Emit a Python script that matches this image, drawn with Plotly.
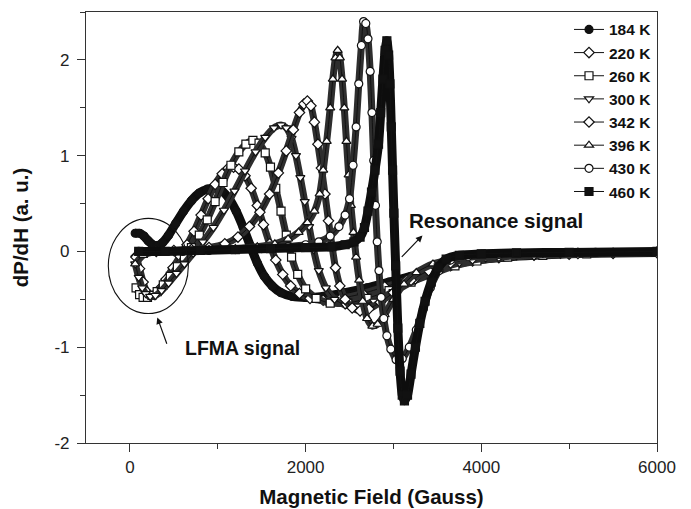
import plotly.graph_objects as go

# ---------------- data ----------------
temps = ["184 K", "220 K", "260 K", "300 K", "342 K", "396 K", "430 K", "460 K"]

h184 = [60, 110, 160, 210, 260, 310, 370, 440, 520, 610, 700, 790, 880, 970, 1050, 1130, 1210, 1290, 1370, 1450,
        1530, 1620, 1720, 1850, 2000, 2200, 2450, 2700, 2950, 3200, 3450, 3700, 3950, 4250, 4600, 5000, 5500, 6000]
y184 = [0.19, 0.19, 0.16, 0.11, 0.07, 0.06, 0.09, 0.17, 0.29, 0.42, 0.53, 0.61, 0.65, 0.66, 0.63, 0.55, 0.42, 0.25,
        0.06, -0.12, -0.26, -0.36, -0.43, -0.47, -0.48, -0.47, -0.43, -0.38, -0.32, -0.26, -0.19, -0.13, -0.09,
        -0.06, -0.04, -0.025, -0.015, -0.01]

h220 = [70, 110, 150, 190, 230, 280, 340, 410, 490, 570, 650, 730, 810, 890, 970, 1050, 1120, 1180, 1240, 1310,
        1380, 1450, 1520, 1590, 1660, 1740, 1830, 1930, 2050, 2200, 2400, 2650, 2900, 3150, 3400, 3650, 3900, 4200,
        4600, 5000, 5500, 6000]
y220 = [-0.05, -0.18, -0.32, -0.42, -0.46, -0.45, -0.39, -0.29, -0.17, -0.05, 0.07, 0.21, 0.38, 0.55, 0.70, 0.81,
        0.87, 0.88, 0.86, 0.79, 0.66, 0.48, 0.28, 0.08, -0.09, -0.24, -0.36, -0.44, -0.49, -0.51, -0.49, -0.44,
        -0.37, -0.30, -0.22, -0.15, -0.10, -0.065, -0.04, -0.03, -0.02, -0.01]

h260 = [70, 110, 150, 200, 250, 310, 380, 460, 540, 620, 700, 790, 880, 970, 1060, 1150, 1240, 1320, 1400, 1470,
        1540, 1600, 1660, 1720, 1780, 1840, 1910, 2000, 2120, 2280, 2480, 2700, 2950, 3200, 3450, 3700, 3950, 4300,
        4700, 5200, 6000]
y260 = [-0.38, -0.45, -0.48, -0.48, -0.46, -0.42, -0.35, -0.26, -0.16, -0.06, 0.04, 0.17, 0.33, 0.52, 0.72, 0.90,
        1.04, 1.12, 1.16, 1.13, 1.03, 0.88, 0.66, 0.42, 0.17, -0.06, -0.24, -0.39, -0.49, -0.54, -0.54, -0.49,
        -0.41, -0.32, -0.23, -0.15, -0.10, -0.06, -0.04, -0.025, -0.01]

h300 = [60, 100, 140, 180, 230, 290, 360, 440, 530, 620, 720, 830, 950, 1070, 1190, 1310, 1430, 1540, 1640, 1720,
        1780, 1840, 1890, 1940, 1990, 2040, 2090, 2150, 2230, 2330, 2450, 2600, 2780, 3000, 3250, 3500, 3750, 4050,
        4400, 4900, 5500, 6000]
y300 = [-0.13, -0.27, -0.38, -0.44, -0.47, -0.46, -0.41, -0.33, -0.23, -0.13, -0.02, 0.10, 0.25, 0.43, 0.63, 0.84,
        1.04, 1.19, 1.29, 1.32, 1.29, 1.18, 1.00, 0.77, 0.52, 0.26, 0.02, -0.20, -0.38, -0.50, -0.56, -0.57, -0.52,
        -0.42, -0.30, -0.19, -0.12, -0.07, -0.045, -0.03, -0.02, -0.01]

h342 = [70, 150, 300, 500, 700, 900, 1080, 1230, 1360, 1480, 1590, 1690, 1780, 1860, 1930, 1980, 2020, 2060, 2100,
        2140, 2180, 2220, 2260, 2300, 2340, 2390, 2450, 2530, 2620, 2720, 2850, 3000, 3200, 3400, 3650, 3900, 4200,
        4600, 5100, 6000]
y342 = [-0.06, -0.02, 0.0, 0.01, 0.02, 0.04, 0.08, 0.15, 0.26, 0.41, 0.60, 0.82, 1.05, 1.27, 1.45, 1.54, 1.57, 1.52,
        1.35, 1.12, 0.87, 0.60, 0.32, 0.06, -0.17, -0.36, -0.50, -0.59, -0.62, -0.60, -0.53, -0.43, -0.30, -0.20,
        -0.12, -0.075, -0.05, -0.035, -0.02, -0.01]

h396 = [60, 150, 300, 600, 900, 1200, 1450, 1650, 1800, 1920, 2020, 2100, 2160, 2200, 2240, 2280, 2310, 2340, 2365,
        2390, 2415, 2440, 2465, 2490, 2515, 2545, 2575, 2610, 2650, 2700, 2760, 2820, 2900, 3000, 3120, 3260, 3450,
        3700, 4000, 4400, 5000, 6000]
y396 = [-0.13, -0.04, 0.0, 0.01, 0.02, 0.03, 0.05, 0.08, 0.13, 0.20, 0.30, 0.42, 0.60, 0.85, 1.15, 1.50, 1.80, 2.02,
        2.10, 2.02, 1.80, 1.50, 1.15, 0.80, 0.48, 0.20, -0.06, -0.30, -0.52, -0.70, -0.78, -0.76, -0.66, -0.50,
        -0.34, -0.22, -0.13, -0.08, -0.05, -0.035, -0.02, -0.01]

h430 = [100, 300, 600, 900, 1200, 1500, 1800, 2000, 2150, 2280, 2380, 2450, 2500, 2540, 2575, 2605, 2635, 2660,
        2685, 2710, 2735, 2755, 2775, 2795, 2815, 2835, 2860, 2890, 2925, 2970, 3030, 3100, 3180, 3260, 3340, 3420,
        3520, 3650, 3850, 4200, 4700, 5300, 6000]
y430 = [0.0, 0.0, 0.0, 0.01, 0.02, 0.03, 0.05, 0.07, 0.10, 0.16, 0.26, 0.38, 0.55, 0.90, 1.30, 1.75, 2.15, 2.40,
        2.38, 2.22, 1.88, 1.45, 0.95, 0.48, 0.10, -0.20, -0.48, -0.70, -0.88, -1.02, -1.13, -1.12, -1.00, -0.82,
        -0.60, -0.38, -0.20, -0.09, -0.05, -0.03, -0.02, -0.01, 0.0]

h460 = [100, 400, 800, 1200, 1600, 2000, 2300, 2450, 2550, 2620, 2670, 2710, 2750, 2790, 2830, 2855, 2880, 2905,
        2925, 2945, 2960, 2975, 2990, 3005, 3025, 3050, 3075, 3100, 3125, 3160, 3200, 3250, 3300, 3360, 3430, 3510,
        3600, 3750, 4000, 4400, 5000, 6000]
y460 = [0.0, 0.0, 0.01, 0.02, 0.03, 0.04, 0.05, 0.07, 0.10, 0.15, 0.25, 0.42, 0.62, 0.85, 1.12, 1.45, 1.80, 2.10,
        2.20, 2.05, 1.75, 1.30, 0.85, 0.40, -0.15, -0.80, -1.25, -1.50, -1.56, -1.50, -1.28, -1.00, -0.75, -0.52,
        -0.32, -0.17, -0.08, -0.04, -0.025, -0.015, -0.01, 0.0]

xs = [h184, h220, h260, h300, h342, h396, h430, h460]
ys = [y184, y220, y260, y300, y342, y396, y430, y460]
symbols = ["circle", "diamond", "square", "triangle-down", "diamond", "triangle-up", "circle", "square"]
filled = [True, False, False, False, False, False, False, True]

x_ticks = [0, 2000, 4000, 6000]
y_ticks = [-2, -1, 0, 1, 2]
y_ticktext = ["-2", "-1", "0", "1", "2"]

# ---------------- figure ----------------
FONT = "Liberation Sans, Arial, sans-serif"
INK = "#111111"
fig = go.Figure()

for name, hx, yy, sym, fl in zip(temps, xs, ys, symbols, filled):
    band = "#0d0d0d" if fl else "#2e2e2e"
    fig.add_trace(go.Scatter(
        x=hx, y=yy, mode="lines", showlegend=False, hoverinfo="skip",
        line=dict(color=band, width=9 if fl else 7, shape="spline", smoothing=0.6)))
    fig.add_trace(go.Scatter(
        x=hx, y=yy, mode="lines+markers", name=name,
        line=dict(color=INK, width=1, shape="spline", smoothing=0.6),
        marker=dict(symbol=sym, size=8,
                    color=INK if fl else "white",
                    line=dict(color=INK, width=1.2))))

fig.add_shape(type="circle", xref="x", yref="y", x0=-246, x1=665, y0=-0.648, y1=0.345,
              line=dict(color=INK, width=1.1))

fig.add_annotation(x=3330, y=0.167, ax=3078, ay=-0.073, xref="x", yref="y", axref="x", ayref="y",
                   text="", showarrow=True, arrowhead=2, arrowsize=1.1, arrowwidth=1.2, arrowcolor=INK)
fig.add_annotation(x=312, y=-0.69, ax=426, ay=-0.98, xref="x", yref="y", axref="x", ayref="y",
                   text="", showarrow=True, arrowhead=2, arrowsize=1.1, arrowwidth=1.2, arrowcolor=INK)
fig.add_annotation(x=4170, y=0.32, xref="x", yref="y", text="Resonance signal", showarrow=False,
                   font=dict(family=FONT, size=20.5, color=INK, weight="bold"))
fig.add_annotation(x=1285, y=-1.01, xref="x", yref="y", text="LFMA signal", showarrow=False,
                   font=dict(family=FONT, size=19.5, color=INK, weight="bold"))

axis_common = dict(showgrid=False, zeroline=False, linecolor="#333333", linewidth=1.2,
                   tickcolor="#333333", tickwidth=1.2, automargin=False,
                   tickfont=dict(family=FONT, size=17, color="#222222"))

fig.update_layout(
    width=691, height=509,
    margin=dict(l=86, r=34, t=12, b=66),
    paper_bgcolor="white", plot_bgcolor="white",
    font=dict(family=FONT, color=INK),
    xaxis=dict(range=[-500, 6000], tickvals=x_ticks, ticks="outside", ticklen=8,
               minor=dict(dtick=1000, tick0=0, ticks="outside", ticklen=5, tickcolor="#333333"),
               mirror=True,
               title=dict(text="Magnetic Field (Gauss)", standoff=14,
                          font=dict(family=FONT, size=20.5, color=INK, weight="bold")),
               **axis_common),
    yaxis=dict(range=[-2, 2.5], tickvals=y_ticks, ticktext=y_ticktext, ticks="outside", ticklen=8,
               minor=dict(dtick=0.5, tick0=0, ticks="outside", ticklen=5, tickcolor="#333333"),
               mirror=True, ticklabelstandoff=4,
               title=dict(text="dP/dH (a. u.)", standoff=20,
                          font=dict(family=FONT, size=20.5, color=INK, weight="bold")),
               **axis_common),
    xaxis2=dict(overlaying="x", matches="x", side="top", anchor="y", showticklabels=False,
                tickvals=[0, 1000, 2000, 3000, 4000, 5000, 6000], ticks="inside", ticklen=4,
                tickcolor="#333333", showgrid=False, zeroline=False, showline=False),
    yaxis2=dict(overlaying="y", matches="y", side="right", anchor="x", showticklabels=False,
                tickvals=[-2, -1.5, -1, -0.5, 0, 0.5, 1, 1.5, 2], ticks="inside", ticklen=4,
                tickcolor="#333333", showgrid=False, zeroline=False, showline=False),
    legend=dict(x=1.0, y=0.998, xanchor="right", yanchor="top", bgcolor="rgba(0,0,0,0)",
                font=dict(family=FONT, size=15.5, color=INK, weight="bold"),
                tracegroupgap=0, itemwidth=30),
    showlegend=True,
)

fig.write_html("out.html")
